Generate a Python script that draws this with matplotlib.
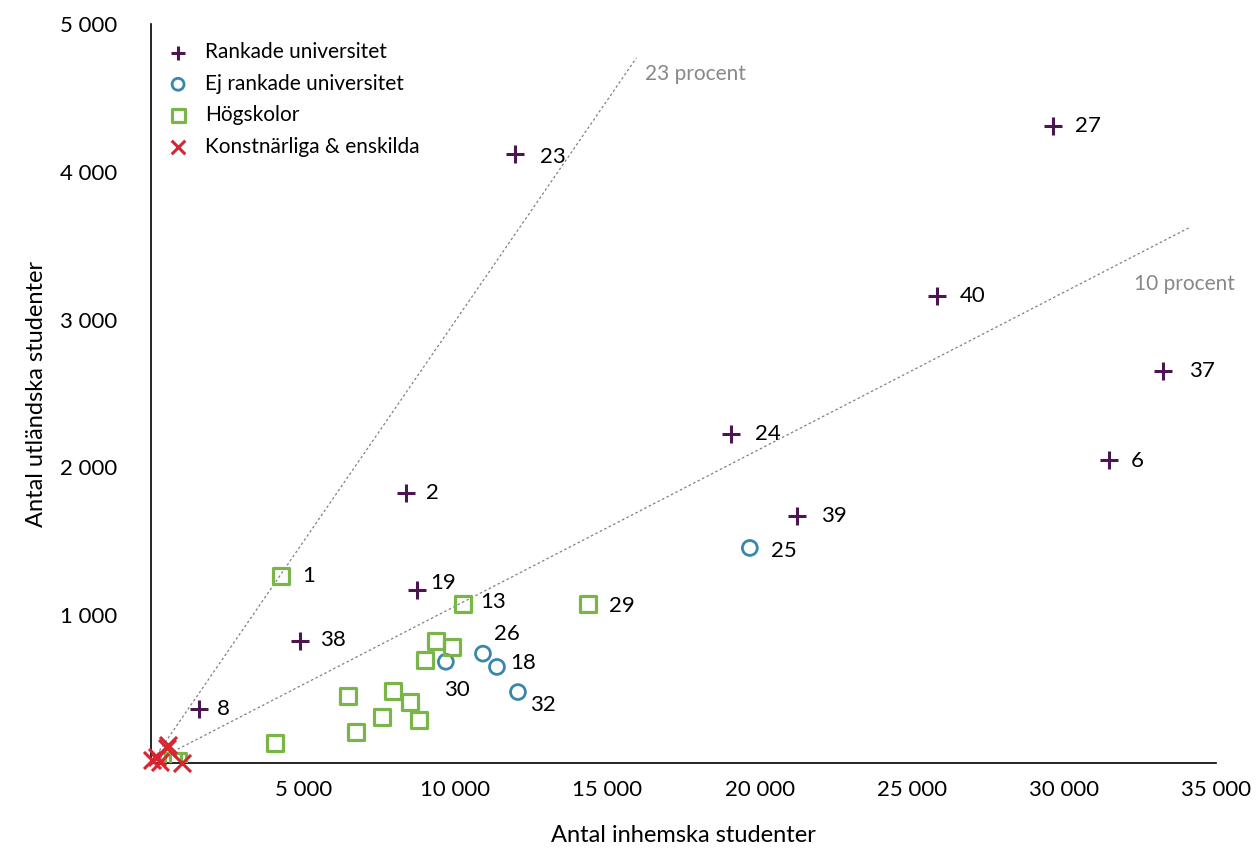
import matplotlib
matplotlib.use("Agg")
import matplotlib.pyplot as plt
from matplotlib.ticker import FixedLocator, FuncFormatter

plt.rcParams['font.family'] = ['Lato', 'DejaVu Sans']

# ---- data (inhemska, utländska, etikett) ----
rank_x = [11960, 29640, 25830, 33260, 19060, 31480, 21230, 8380, 8740, 4900, 1580]
rank_y = [4120, 4310, 3160, 2650, 2225, 2050, 1670, 1830, 1170, 825, 365]
rank_lab = ['23', '27', '40', '37', '24', '6', '39', '2', '19', '38', '8']

ej_x = [19680, 10910, 11370, 9690, 12060]
ej_y = [1455, 740, 650, 685, 480]
ej_lab = ['25', '26', '18', '30', '32']

hog_x = [4270, 10250, 14360, 9370, 9890, 9000, 6470, 7950, 8510, 7590, 8810, 6740, 4075, 890, 720]
hog_y = [1265, 1075, 1075, 825, 785, 697, 453, 487, 413, 311, 291, 210, 135, 14, 14]
hog_lab = ['1', '13', '29', '', '', '', '', '', '', '', '', '', '', '', '']

konst_x = [30, 200, 560, 525, 1020, 300]
konst_y = [20, 40, 120, 100, 0, 5]

line_23 = (15950, 4770)
line_10 = (34100, 3620)

x_ticks = [5000, 10000, 15000, 20000, 25000, 30000, 35000]
y_ticks = [1000, 2000, 3000, 4000, 5000]

# label offsets in pixels (dx, dy)
offsets = {'26': (11, 20), '30': (-2, -28), '32': (12, -13), '19': (13, 7),
           '18': (13, 4), '13': (17, 2), '1': (21, 0), '8': (18, 0),
           '38': (20, 1), '2': (20, 0), '24': (24, 0), '39': (24, 0),
           '25': (21, -3), '40': (23, 0), '27': (22, 0), '37': (26, 0),
           '6': (22, -1), '29': (21, -2), '23': (25, -3)}

c_rank = '#4b1650'
c_ej = '#3b86ad'
c_hog = '#7ab54a'
c_konst = '#d7262f'

fig = plt.figure(figsize=(12.58, 8.48), dpi=100)
ax = fig.add_axes([151/1258, 1-763/848, (1216-151)/1258, (763-24)/848])

ax.plot([0, line_23[0]], [0, line_23[1]], ls=(0, (2, 2)), color='#808080', lw=0.9, zorder=1)
ax.plot([0, line_10[0]], [0, line_10[1]], ls=(0, (2, 2)), color='#808080', lw=0.9, zorder=1)
ax.annotate('23 procent', xy=line_23, xytext=(9, -16), textcoords='offset pixels',
            color='#888888', fontsize=15, va='center', ha='left')
ax.annotate('10 procent', xy=line_10, xytext=(-55, -56), textcoords='offset pixels',
            color='#888888', fontsize=15, va='center', ha='left')

ax.scatter(rank_x, rank_y, marker='+', s=180, color=c_rank, linewidths=2.2,
           label='Rankade universitet', zorder=3)
ax.scatter(ej_x, ej_y, marker='o', s=115, facecolors='none', edgecolors=c_ej,
           linewidths=2.0, label='Ej rankade universitet', zorder=3)
ax.scatter(hog_x, hog_y, marker='s', s=135, facecolors='none', edgecolors=c_hog,
           linewidths=2.3, label='Högskolor', zorder=3)
ax.scatter(konst_x, konst_y, marker='x', s=150, color=c_konst, linewidths=2.2,
           label='Konstnärliga & enskilda', zorder=4, clip_on=False)

for xs, ys, labs in [(rank_x, rank_y, rank_lab), (ej_x, ej_y, ej_lab), (hog_x, hog_y, hog_lab)]:
    for x, y, t in zip(xs, ys, labs):
        if t:
            dx, dy = offsets.get(t, (20, 0))
            ax.annotate(t, xy=(x, y), xytext=(dx, dy), textcoords='offset pixels',
                        fontsize=16, ha='left', va='center', color='black')

ax.set_xlim(0, 35000)
ax.set_ylim(0, 5000)
ax.xaxis.set_major_locator(FixedLocator(x_ticks))
ax.yaxis.set_major_locator(FixedLocator(y_ticks))
fmt = FuncFormatter(lambda v, p: f'{int(v):,}'.replace(',', ' '))
ax.xaxis.set_major_formatter(fmt)
ax.yaxis.set_major_formatter(fmt)
ax.tick_params(axis='both', length=0, labelsize=16)
ax.tick_params(axis='x', pad=12)
ax.tick_params(axis='y', pad=24)
for s in ['top', 'right']:
    ax.spines[s].set_visible(False)
for s in ['left', 'bottom']:
    ax.spines[s].set_linewidth(1.2)
    ax.spines[s].set_color('black')

ax.set_xlabel('Antal inhemska studenter', fontsize=17, labelpad=18)
ax.set_ylabel('Antal utländska studenter', fontsize=17, labelpad=10)

leg = ax.legend(loc='upper left', bbox_to_anchor=(0.0, 0.995), frameon=False,
                fontsize=15, handletextpad=0.7, labelspacing=0.55,
                borderaxespad=0.3, handlelength=1.2, markerscale=0.8)

fig.savefig('out.png', dpi=100)
